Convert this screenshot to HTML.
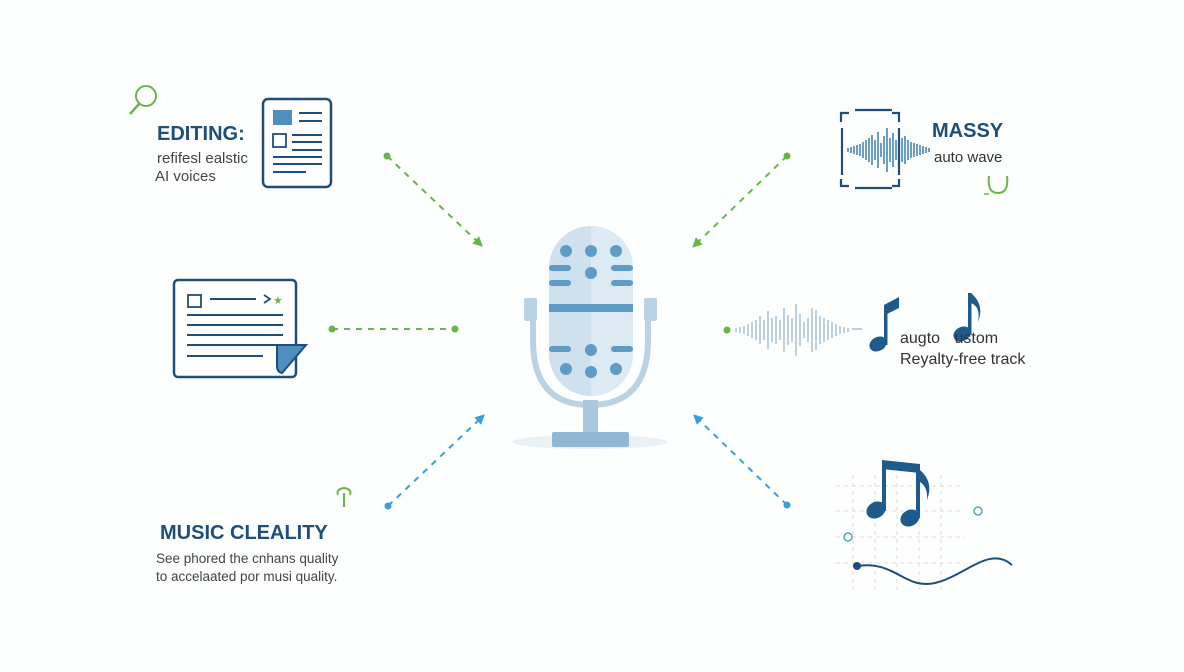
<!DOCTYPE html>
<html><head><meta charset="utf-8"><style>html,body{margin:0;padding:0;background:#fdfefe}svg{display:block}text{font-family:"Liberation Sans",sans-serif}</style></head>
<body>
<svg width="1184" height="672" viewBox="0 0 1184 672" xmlns="http://www.w3.org/2000/svg">
<defs>
<marker id="ag" markerWidth="10" markerHeight="10" refX="6" refY="5" orient="auto" markerUnits="userSpaceOnUse"><path d="M0,0 L10,5 L0,10 z" fill="#6ab547"/></marker>
<marker id="ab" markerWidth="10" markerHeight="10" refX="6" refY="5" orient="auto" markerUnits="userSpaceOnUse"><path d="M0,0 L10,5 L0,10 z" fill="#3aa0d8"/></marker>
</defs>
<rect width="1184" height="672" fill="#fdfefe"/>
<!-- top left -->
<circle cx="146" cy="96" r="10" fill="none" stroke="#6ab547" stroke-width="2"/>
<line x1="139" y1="104" x2="130" y2="114" stroke="#6ab547" stroke-width="2.5"/>
<text x="157" y="140" font-size="20" font-weight="bold" fill="#1e4e79">EDITING:</text>
<text x="157" y="163" font-size="15" fill="#444">refifesl ealstic</text>
<text x="155" y="181" font-size="15" fill="#444">AI voices</text>
<rect x="263" y="99" width="68" height="88" rx="5" fill="#fff" stroke="#1e4e79" stroke-width="2.5"/>
<rect x="273" y="110" width="19" height="15" fill="#4f8fc0"/>
<rect x="273" y="134" width="13" height="13" fill="none" stroke="#1e4e79" stroke-width="1.8"/>
<g stroke="#1e4e79" stroke-width="2"><line x1="299" y1="113" x2="322" y2="113"/><line x1="299" y1="121" x2="322" y2="121"/><line x1="292" y1="135" x2="322" y2="135"/><line x1="292" y1="142" x2="322" y2="142"/><line x1="292" y1="150" x2="322" y2="150"/><line x1="273" y1="157" x2="322" y2="157"/><line x1="273" y1="164" x2="322" y2="164"/><line x1="273" y1="172" x2="306" y2="172"/></g>
<!-- left doc -->
<rect x="174" y="280" width="122" height="97" rx="4" fill="#fff" stroke="#1e4e79" stroke-width="2.5"/>
<rect x="188" y="295" width="13" height="12" fill="none" stroke="#1e4e79" stroke-width="1.8"/>
<line x1="210" y1="299" x2="256" y2="299" stroke="#1e4e79" stroke-width="2"/>
<path d="M264,295 L270,299 L264,303" fill="none" stroke="#1e4e79" stroke-width="1.8"/>
<text x="273" y="304" font-size="11" fill="#6ab547">★</text>
<g stroke="#1e4e79" stroke-width="2"><line x1="187" y1="315" x2="283" y2="315"/><line x1="187" y1="325" x2="283" y2="325"/><line x1="187" y1="335" x2="283" y2="335"/><line x1="187" y1="345" x2="283" y2="345"/><line x1="187" y1="356" x2="263" y2="356"/></g>
<path d="M277,345 L306,345 L282,373 Q277,372 277,366 z" fill="#4f8fc0" stroke="#1e4e79" stroke-width="2"/>
<!-- connectors -->
<g stroke-dasharray="6,6" stroke-width="2" fill="none">
<line x1="387" y1="156" x2="480" y2="244" stroke="#6ab547" marker-end="url(#ag)"/>
<line x1="332" y1="329" x2="455" y2="329" stroke="#6ab547"/>
<line x1="787" y1="156" x2="695" y2="245" stroke="#6ab547" marker-end="url(#ag)"/>
<line x1="388" y1="506" x2="482" y2="417" stroke="#3aa0d8" marker-end="url(#ab)"/>
<line x1="787" y1="505" x2="696" y2="417" stroke="#3aa0d8" marker-end="url(#ab)"/>
</g>
<g fill="#6ab547"><circle cx="387" cy="156" r="3.5"/><circle cx="332" cy="329" r="3.5"/><circle cx="455" cy="329" r="3.5"/><circle cx="787" cy="156" r="3.5"/><circle cx="727" cy="330" r="3.5"/></g>
<g fill="#3aa0d8"><circle cx="388" cy="506" r="3.5"/><circle cx="787" cy="505" r="3.5"/></g>
<!-- mic -->
<ellipse cx="590" cy="442" rx="78" ry="7" fill="#eaf1f6"/>
<path d="M533,303 L533,340 Q533,405 590,405 Q648,405 648,340 L648,303" fill="none" stroke="#b9d3e4" stroke-width="6"/>
<rect x="524" y="298" width="13" height="23" rx="2" fill="#b9d3e4"/>
<rect x="644" y="298" width="13" height="23" rx="2" fill="#b9d3e4"/>
<rect x="583" y="400" width="15" height="36" fill="#a9c8dd"/>
<rect x="552" y="432" width="77" height="15" rx="2" fill="#8fb8d4"/>
<rect x="549" y="226" width="84" height="170" rx="42" fill="#cfe1ee"/>
<path d="M591,226 A42,42 0 0 1 633,268 L633,354 A42,42 0 0 1 591,396 z" fill="#dceaf3"/>
<g fill="#5f9cc5"><circle cx="566" cy="251" r="6"/><circle cx="591" cy="251" r="6"/><circle cx="616" cy="251" r="6"/><circle cx="591" cy="273" r="6"/><circle cx="591" cy="350" r="6"/><circle cx="566" cy="369" r="6"/><circle cx="591" cy="372" r="6"/><circle cx="616" cy="369" r="6"/>
<rect x="549" y="265" width="22" height="6" rx="3"/><rect x="549" y="280" width="22" height="6" rx="3"/><rect x="611" y="265" width="22" height="6" rx="3"/><rect x="611" y="280" width="22" height="6" rx="3"/>
<rect x="549" y="304" width="84" height="8"/>
<rect x="549" y="346" width="22" height="6" rx="3"/><rect x="611" y="346" width="22" height="6" rx="3"/></g>
<!-- top right -->
<g stroke="#1e4e79" stroke-width="2.2" fill="none">
<path d="M841,122 L841,113 L849,113"/><path d="M855,110 L892,110"/><path d="M892,113 L899,113 L899,122"/>
<line x1="842" y1="128" x2="842" y2="175"/><line x1="899" y1="128" x2="899" y2="175"/>
<path d="M841,179 L841,186 L849,186"/><path d="M855,188 L892,188"/><path d="M892,186 L899,186 L899,179"/>
</g>
<g stroke="#3a7fb5" stroke-width="1.5" id="wv">
<line x1="848" y1="148" x2="848" y2="152"/><line x1="851" y1="147" x2="851" y2="153"/><line x1="854" y1="146" x2="854" y2="154"/><line x1="857" y1="145" x2="857" y2="155"/><line x1="860" y1="144" x2="860" y2="156"/><line x1="863" y1="142" x2="863" y2="158"/><line x1="866" y1="140" x2="866" y2="160"/><line x1="869" y1="138" x2="869" y2="162"/><line x1="872" y1="135" x2="872" y2="165"/><line x1="875" y1="140" x2="875" y2="160"/><line x1="878" y1="132" x2="878" y2="168"/><line x1="881" y1="143" x2="881" y2="157"/><line x1="884" y1="136" x2="884" y2="164"/><line x1="887" y1="128" x2="887" y2="172"/><line x1="890" y1="138" x2="890" y2="162"/><line x1="893" y1="133" x2="893" y2="167"/><line x1="896" y1="140" x2="896" y2="160"/><line x1="902" y1="138" x2="902" y2="162"/><line x1="905" y1="136" x2="905" y2="164"/><line x1="908" y1="140" x2="908" y2="160"/><line x1="911" y1="142" x2="911" y2="158"/><line x1="914" y1="143" x2="914" y2="157"/><line x1="917" y1="144" x2="917" y2="156"/><line x1="920" y1="145" x2="920" y2="155"/><line x1="923" y1="146" x2="923" y2="154"/><line x1="926" y1="147" x2="926" y2="153"/><line x1="929" y1="148" x2="929" y2="152"/>
</g>
<text x="932" y="137" font-size="20" font-weight="bold" fill="#1e4e79">MASSY</text>
<text x="934" y="162" font-size="15" fill="#333">auto wave</text>
<path d="M989,176 Q987,193 998,193 Q1009,193 1007,176" fill="none" stroke="#6ab547" stroke-width="2"/>
<line x1="984" y1="194" x2="989" y2="194" stroke="#6ab547" stroke-width="1.5"/>
<!-- right middle waveform -->
<g stroke="#a8c0d2" stroke-width="1.5">
<line x1="736" y1="328" x2="736" y2="332"/><line x1="740" y1="327" x2="740" y2="333"/><line x1="744" y1="326" x2="744" y2="334"/><line x1="748" y1="324" x2="748" y2="336"/><line x1="752" y1="322" x2="752" y2="338"/><line x1="756" y1="320" x2="756" y2="340"/><line x1="760" y1="316" x2="760" y2="344"/><line x1="764" y1="320" x2="764" y2="340"/><line x1="768" y1="311" x2="768" y2="349"/><line x1="772" y1="318" x2="772" y2="342"/><line x1="776" y1="316" x2="776" y2="344"/><line x1="780" y1="320" x2="780" y2="340"/><line x1="784" y1="308" x2="784" y2="352"/><line x1="788" y1="315" x2="788" y2="345"/><line x1="792" y1="318" x2="792" y2="342"/><line x1="796" y1="304" x2="796" y2="356"/><line x1="800" y1="314" x2="800" y2="346"/><line x1="804" y1="322" x2="804" y2="338"/><line x1="808" y1="318" x2="808" y2="342"/><line x1="812" y1="308" x2="812" y2="352"/><line x1="816" y1="310" x2="816" y2="350"/><line x1="820" y1="316" x2="820" y2="344"/><line x1="824" y1="318" x2="824" y2="342"/><line x1="828" y1="320" x2="828" y2="340"/><line x1="832" y1="322" x2="832" y2="338"/><line x1="836" y1="324" x2="836" y2="336"/><line x1="840" y1="326" x2="840" y2="334"/><line x1="844" y1="327" x2="844" y2="333"/><line x1="848" y1="328" x2="848" y2="332"/><line x1="852" y1="329" x2="862" y2="329"/>
</g>
<g fill="#1e5a8a">
<ellipse cx="878" cy="344" rx="9" ry="7" transform="rotate(-30 878 344)"/>
<rect x="884" y="305" width="3.5" height="40"/>
<path d="M884,305 L899,297 L899,308 L887,314 z"/>
<ellipse cx="962" cy="334" rx="9" ry="7" transform="rotate(-30 962 334)"/>
<rect x="968" y="293" width="3.5" height="42"/>
<path d="M971,293 Q985,305 978,322 Q981,307 971,303 z"/>
</g>
<text x="900" y="343" font-size="16" fill="#333">augto <tspan dx="10">ustom</tspan></text>
<text x="900" y="364" font-size="16" fill="#333">Reyalty-free track</text>
<!-- bottom left -->
<path d="M338,495 Q336,489 344,488 Q352,489 350,495" fill="none" stroke="#6ab547" stroke-width="2"/>
<line x1="344" y1="493" x2="344" y2="507" stroke="#6ab547" stroke-width="2"/>
<text x="160" y="539" font-size="20" font-weight="bold" fill="#1e4e79">MUSIC CLEALITY</text>
<text x="156" y="563" font-size="13.5" fill="#444">See phored the cnhans quality</text>
<text x="156" y="581" font-size="13.5" fill="#444">to accelaated por musi quality.</text>
<!-- bottom right -->
<g stroke="#edd5d5" stroke-width="1" stroke-dasharray="4,4">
<line x1="836" y1="486" x2="960" y2="486"/><line x1="836" y1="511" x2="960" y2="511"/><line x1="836" y1="537" x2="965" y2="537"/><line x1="836" y1="563" x2="965" y2="563"/>
<line x1="853" y1="475" x2="853" y2="590"/><line x1="875" y1="475" x2="875" y2="590"/><line x1="897" y1="475" x2="897" y2="590"/><line x1="919" y1="475" x2="919" y2="590"/><line x1="941" y1="475" x2="941" y2="590"/>
</g>
<g fill="#1e5a8a">
<ellipse cx="876" cy="510" rx="10" ry="8" transform="rotate(-30 876 510)"/>
<ellipse cx="910" cy="518" rx="10" ry="8" transform="rotate(-30 910 518)"/>
<rect x="882" y="461" width="4" height="50"/>
<rect x="916" y="465" width="4" height="53"/>
<path d="M882,460 L920,464 L920,473 L882,469 z"/>
<path d="M920,470 Q934,482 927,500 Q928,487 920,482 z"/>
</g>
<circle cx="978" cy="511" r="4" fill="none" stroke="#5aa7b8" stroke-width="1.5"/>
<circle cx="848" cy="537" r="4" fill="none" stroke="#5aa7b8" stroke-width="1.5"/>
<circle cx="857" cy="566" r="4" fill="#1e4e79"/>
<path d="M857,566 C895,560 905,590 935,583 C965,576 990,545 1012,565" fill="none" stroke="#1e4e79" stroke-width="2"/>
</svg>
</body></html>
